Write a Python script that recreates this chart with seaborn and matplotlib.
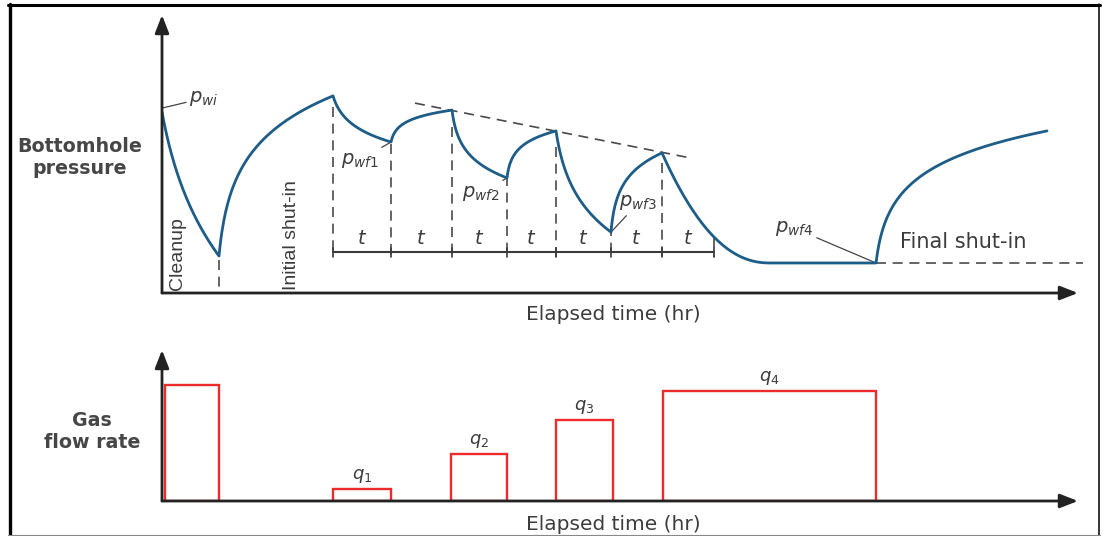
import numpy as np
import pandas as pd
import matplotlib
matplotlib.use("Agg")
import matplotlib.pyplot as plt
from matplotlib.lines import Line2D
import seaborn as sns

# ---- test sequence (time in hours, pressure in relative units) ----
period_start = [0.00, 1.14, 3.42, 4.58, 5.80, 6.90, 7.88, 8.98, 10.00, 14.28]
period_end = [1.14, 3.42, 4.58, 5.80, 6.90, 7.88, 8.98, 10.00, 14.28, 17.70]
p_start = [65.1, 13.3, 70.9, 54.3, 65.8, 41.4, 58.3, 21.9, 50.4, 10.8]
p_end = [13.3, 70.9, 54.3, 65.8, 41.4, 58.3, 21.9, 50.4, 10.8, 58.3]
is_flowing = [True, False, True, False, True, False, True, False, True, False]
# steepness of the early-time response in each period
curvature = [3.0, 25.0, 10.0, 30.0, 20.0, 30.0, 8.0, 25.0, 2.2, 40.0]
stabilised_time = 12.16  # extended flow reaches pseudo-steady pressure

t_marks = [3.42, 4.58, 5.80, 6.90, 7.88, 8.98, 10.00, 11.04]
t_line_level = 14.7
trend_t = [5.06, 10.56]
trend_p = [68.3, 48.6]

# ---- gas flow rates ----
rate_start = [0.05, 3.42, 5.78, 7.88, 10.02]
rate_end = [1.14, 4.58, 6.90, 9.02, 14.28]
rates = [116, 12, 47, 81, 110]
rate_labels = ["", "$q_1$", "$q_2$", "$q_3$", "$q_4$"]

BLUE = "#1d5d88"
RED = "#ee2b2b"
INK = "#3c3c3c"
AX = "#222222"
DASH = "#4a4a4a"

sns.set_theme(style="white")
plt.rcParams["font.family"] = ["DejaVu Sans"]
plt.rcParams["mathtext.fontset"] = "custom"
plt.rcParams["mathtext.it"] = "DejaVu Sans:italic"
plt.rcParams["mathtext.rm"] = "DejaVu Sans"
plt.rcParams["mathtext.bf"] = "DejaVu Sans:bold"


def log_response(s, a):
    return np.log1p(a * s) / np.log1p(a)


rows = []
for t0, t1, pa, pb, flowing, k in zip(period_start, period_end, p_start, p_end,
                                      is_flowing, curvature):
    s = np.linspace(0, 1, 120)
    if flowing and t1 > stabilised_time > t0:
        tt = t0 + s * (stabilised_time - t0)
        pp = pb + (pa - pb) * (1 - s) ** k
        rows += list(zip(tt, pp))
        rows += [(t1, pb)]
        continue
    tt = t0 + s * (t1 - t0)
    pp = pa + (pb - pa) * log_response(s, k)
    rows += list(zip(tt, pp))
curve = pd.DataFrame(rows, columns=["time", "pressure"])

fig = plt.figure(figsize=(11.03, 5.36), dpi=100)
W, H = 1103, 536
X0, X1 = 162, 1078
ax = fig.add_axes([X0 / W, (H - 293) / H, (X1 - X0) / W, (293 - 15) / H])
ax2 = fig.add_axes([X0 / W, (H - 501) / H, (X1 - X0) / W, (501 - 350) / H])
for a in (ax, ax2):
    a.set_xlim(0, 18.32)
    a.set_axis_off()
ax.set_ylim(0, 100)
ax2.set_ylim(0, 151)

# ---- pressure history ----
sns.lineplot(data=curve, x="time", y="pressure", sort=False, estimator=None,
             color=BLUE, lw=2.0, ax=ax, zorder=4)


def p_at(t):
    return np.interp(t, curve["time"].to_numpy(), curve["pressure"].to_numpy())


dash = dict(color=DASH, lw=1.2, dashes=(6, 4))
# end of cleanup
ax.plot([period_end[0]] * 2, [p_end[0] - 1.5, 0], **dash)
# boundaries of the isochronal periods
for tm in t_marks[:-1]:
    ax.plot([tm, tm], [p_at(tm + 0.03) - 2.5, t_line_level - 1.8], **dash)
ax.plot([t_marks[-1]] * 2, [t_line_level + 5.0, t_line_level - 1.8], **dash)
ax.plot(trend_t, trend_p, **dash)
ax.plot([period_start[-1], 18.42], [p_start[-1]] * 2, clip_on=False, **dash)

# "t" interval scale
ax.plot([t_marks[0], t_marks[-1]], [t_line_level] * 2, color="#3a3a3a", lw=1.5)
for tm in t_marks:
    ax.plot([tm, tm], [t_line_level - 1.8, t_line_level + 1.4], color="#3a3a3a", lw=1.2)
for ta, tb in zip(t_marks[:-1], t_marks[1:]):
    ax.text((ta + tb) / 2, t_line_level + 1.4, "$t$", ha="center", va="bottom",
            fontsize=14, color=INK)

lead = dict(arrowstyle="-", color="#444444", lw=0.9, shrinkA=0, shrinkB=0)
lab = dict(textcoords="offset points", va="center", fontsize=14, color=INK,
           arrowprops=lead)
ax.annotate("$p_{wi}$", xy=(0.02, p_start[0] + 1.5), xytext=(19, 7), ha="left", **lab)
ax.annotate("$p_{wf1}$", xy=(period_end[2], p_end[2]), xytext=(-9, -13), ha="right", **lab)
ax.annotate("$p_{wf2}$", xy=(period_end[4], p_end[4]), xytext=(-5, -11), ha="right", **lab)
ax.annotate("$p_{wf3}$", xy=(period_end[6], p_end[6]), xytext=(6, 21), ha="left", **lab)
ax.annotate("$p_{wf4}$", xy=(period_end[8], p_end[8]), xytext=(-45, 25), ha="right", **lab)

ax.text(14.76, 18.3, "Final shut-in", ha="left", va="center", fontsize=15,
        color=INK)
narrow = ["Liberation Sans", "DejaVu Sans"]
ax.text(0.31, 1.0, "Cleanup", rotation=90, ha="center", va="bottom",
        fontsize=14, color=INK, family=narrow)
ax.text(2.60, 1.0, "Initial shut-in", rotation=90, ha="center", va="bottom",
        fontsize=14, color=INK, family=narrow)

# ---- flow rates ----
ax2.bar(rate_start, rates, width=np.subtract(rate_end, rate_start), align="edge",
        fill=False, edgecolor=RED, lw=1.7, zorder=3)
for t0, t1, q, lb in zip(rate_start, rate_end, rates, rate_labels):
    if lb:
        ax2.text((t0 + t1) / 2, q + 4, lb, ha="center", va="bottom", fontsize=13,
                 color=INK)

# ---- axes with arrow heads ----
arrow = dict(arrowstyle="-|>,head_length=0.9,head_width=0.35", color=AX, lw=2.0,
             shrinkA=0, shrinkB=0)
for a in (ax, ax2):
    a.annotate("", xy=(1, 0), xytext=(0, 0), xycoords="axes fraction",
               arrowprops=arrow, zorder=6, annotation_clip=False)
    a.annotate("", xy=(0, 1), xytext=(0, 0), xycoords="axes fraction",
               arrowprops=arrow, zorder=6, annotation_clip=False)

# ---- axis titles ----
title = dict(ha="center", va="center", fontsize=13.7, fontweight="bold",
             color="#464646", linespacing=1.2)
fig.text(80 / W, 1 - 157 / H, "Bottomhole\npressure", **title)
fig.text(92 / W, 1 - 431 / H, "Gas\nflow rate", **title)
fig.text(613 / W, 1 - 314 / H, "Elapsed time (hr)", ha="center", va="center",
         fontsize=14.5, color=INK)
fig.text(613 / W, 1 - 524 / H, "Elapsed time (hr)", ha="center", va="center",
         fontsize=14.5, color=INK)

# ---- frame ----
fig.add_artist(Line2D([9.5 / W, 9.5 / W], [0, 1 - 4 / H], color="black", lw=2.4))
fig.add_artist(Line2D([8 / W, 1100 / W], [1 - 5 / H, 1 - 5 / H], color="black", lw=2.2))
fig.add_artist(Line2D([1099 / W, 1099 / W], [0, 1 - 4 / H], color="black", lw=1.1))
fig.add_artist(Line2D([8 / W, 1100 / W], [1.5 / H, 1.5 / H], color="#888888", lw=0.8))

fig.savefig("out.png", dpi=100, facecolor="white")
